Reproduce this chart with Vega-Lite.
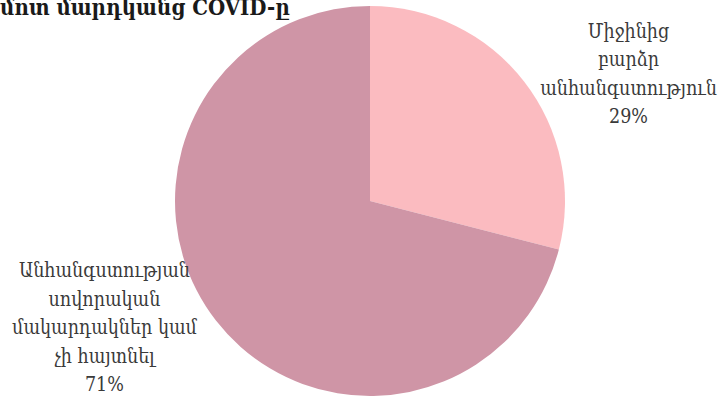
{
  "$schema": "https://vega.github.io/schema/vega-lite/v6.json",
  "autosize": "none",
  "width": 700,
  "height": 396,
  "padding": {"left": 20, "top": 3, "right": 0, "bottom": 0},
  "background": "white",
  "title": {
    "text": "մոտ մարդկանց COVID-ը",
    "orient": "none",
    "anchor": "start",
    "frame": "group",
    "font": "DejaVu Serif Condensed",
    "fontSize": 22,
    "fontWeight": "bold",
    "color": "#1a1a1a",
    "baseline": "alphabetic",
    "dx": -20,
    "dy": 12
  },
  "data": {
    "values": [
      {"category": "Միջինից բարձր անհանգստություն", "value": 29, "label": "Միջինից\nբարձր\nանհանգստություն\n29%"},
      {"category": "Անհանգստության սովորական մակարդակներ կամ չի հայտնել", "value": 71, "label": "Անհանգստության\nսովորական\nմակարդակներ կամ\nչի հայտնել\n71%"}
    ]
  },
  "encoding": {
    "theta": {"field": "value", "type": "quantitative", "stack": true},
    "order": {"field": "value", "type": "quantitative", "sort": "ascending"}
  },
  "layer": [
    {
      "mark": {"type": "arc", "outerRadius": 195, "stroke": null},
      "encoding": {
        "color": {
          "field": "category",
          "type": "nominal",
          "scale": {
            "domain": ["Միջինից բարձր անհանգստություն", "Անհանգստության սովորական մակարդակներ կամ չի հայտնել"],
            "range": ["#fbbbc0", "#cf95a6"]
          },
          "legend": null
        }
      }
    },
    {
      "mark": {"type": "text", "radius": 250, "dx": 61, "dy": -16, "lineBreak": "\n", "lineHeight": 28.5, "font": "DejaVu Serif Condensed", "fontSize": 19.5, "fontWeight": 300, "color": "#3a3a3a", "align": "center", "baseline": "middle"},
      "encoding": {
        "text": {"condition": {"test": "datum.value == 29", "field": "label"}, "value": ""}
      }
    },
    {
      "mark": {"type": "text", "radius": 250, "dx": -68, "dy": -83, "lineBreak": "\n", "lineHeight": 28.5, "font": "DejaVu Serif Condensed", "fontSize": 19.5, "fontWeight": 300, "color": "#3a3a3a", "align": "center", "baseline": "middle"},
      "encoding": {
        "text": {"condition": {"test": "datum.value == 71", "field": "label"}, "value": ""}
      }
    }
  ]
}
